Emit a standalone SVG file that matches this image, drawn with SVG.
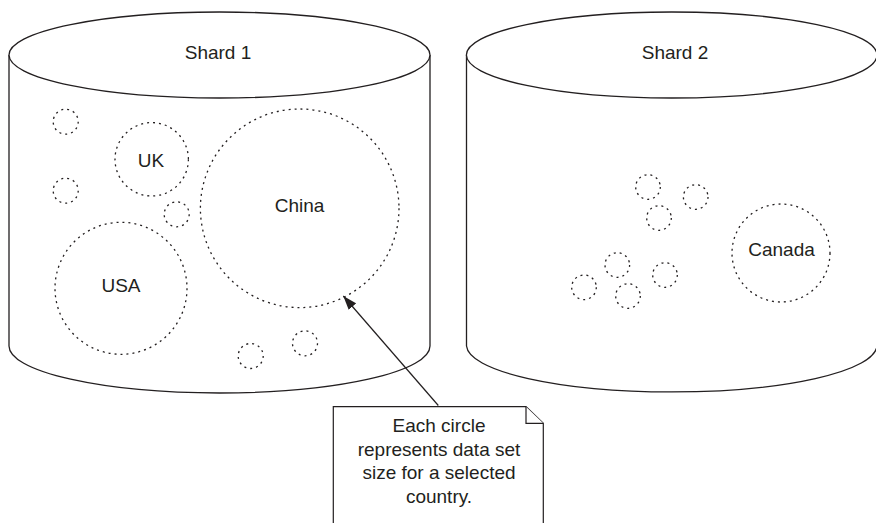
<svg xmlns="http://www.w3.org/2000/svg" width="876" height="523" viewBox="0 0 876 523">
<defs>
<style>
.cyl{fill:#fff;stroke:#231f20;stroke-width:1.3}
.dot{fill:none;stroke:#231f20;stroke-width:1.3;stroke-dasharray:2 4}
.lbl{font-family:"Liberation Sans",Arial,sans-serif;font-size:19px;fill:#231f20;text-anchor:middle}
.note{fill:#fff;stroke:#231f20;stroke-width:1.2}
</style>
<marker id="ah" viewBox="0 0 14 10" refX="14" refY="5" markerWidth="14" markerHeight="10" markerUnits="userSpaceOnUse" orient="auto">
<path d="M0,0 L14,5 L0,10 Z" fill="#231f20"/>
</marker>
</defs>
<rect width="876" height="523" fill="#fff"/>
<g id="shard1">
<path class="cyl" d="M9,55 V346 A210.5,47 0 0 0 430,346 V55"/>
<ellipse class="cyl" cx="219.5" cy="55" rx="210.5" ry="43"/>
<text class="lbl" x="218" y="59">Shard 1</text>
<circle class="dot" cx="65.7" cy="121.7" r="12.5"/>
<circle class="dot" cx="65.7" cy="190.7" r="12.5"/>
<circle class="dot" cx="176.7" cy="214.3" r="12.5"/>
<circle class="dot" cx="250.7" cy="356" r="12.5"/>
<circle class="dot" cx="305" cy="343.3" r="12.5"/>
<g id="uk"><circle class="dot" cx="151.7" cy="159.3" r="36.7"/><text class="lbl" x="151" y="167">UK</text></g>
<g id="usa"><circle class="dot" cx="121" cy="288.3" r="66"/><text class="lbl" x="121" y="292">USA</text></g>
<g id="china"><circle class="dot" cx="299.7" cy="208.3" r="99.3"/><text class="lbl" x="299.5" y="212">China</text></g>
</g>
<g id="shard2">
<path class="cyl" d="M466.5,55 V346 A205.3,47 0 0 0 877,346 V55"/>
<ellipse class="cyl" cx="671.7" cy="55" rx="205.3" ry="43"/>
<text class="lbl" x="675" y="59">Shard 2</text>
<circle class="dot" cx="648" cy="187" r="12.3"/>
<circle class="dot" cx="695.7" cy="197" r="12.3"/>
<circle class="dot" cx="659" cy="218" r="12.3"/>
<circle class="dot" cx="617.3" cy="265" r="12.3"/>
<circle class="dot" cx="584" cy="287.3" r="12.3"/>
<circle class="dot" cx="628" cy="296" r="12.3"/>
<circle class="dot" cx="665" cy="275" r="12.3"/>
<g id="canada"><circle class="dot" cx="781" cy="253" r="49"/><text class="lbl" x="781.5" y="256">Canada</text></g>
</g>
<g id="connectors">
<line x1="438.3" y1="405.5" x2="343.3" y2="296" stroke="#231f20" stroke-width="1.2" marker-end="url(#ah)"/>
</g>
<g id="note">
<path class="note" d="M333.3,524 V406.7 H526 L543.3,423.3 V524"/>
<path class="note" fill="none" d="M526,406.7 V423.3 H543.3"/>
<text class="lbl" x="439" y="432">Each circle</text>
<text class="lbl" x="439" y="455.5">represents data set</text>
<text class="lbl" x="439" y="479">size for a selected</text>
<text class="lbl" x="439" y="502.5">country.</text>
</g>
</svg>
